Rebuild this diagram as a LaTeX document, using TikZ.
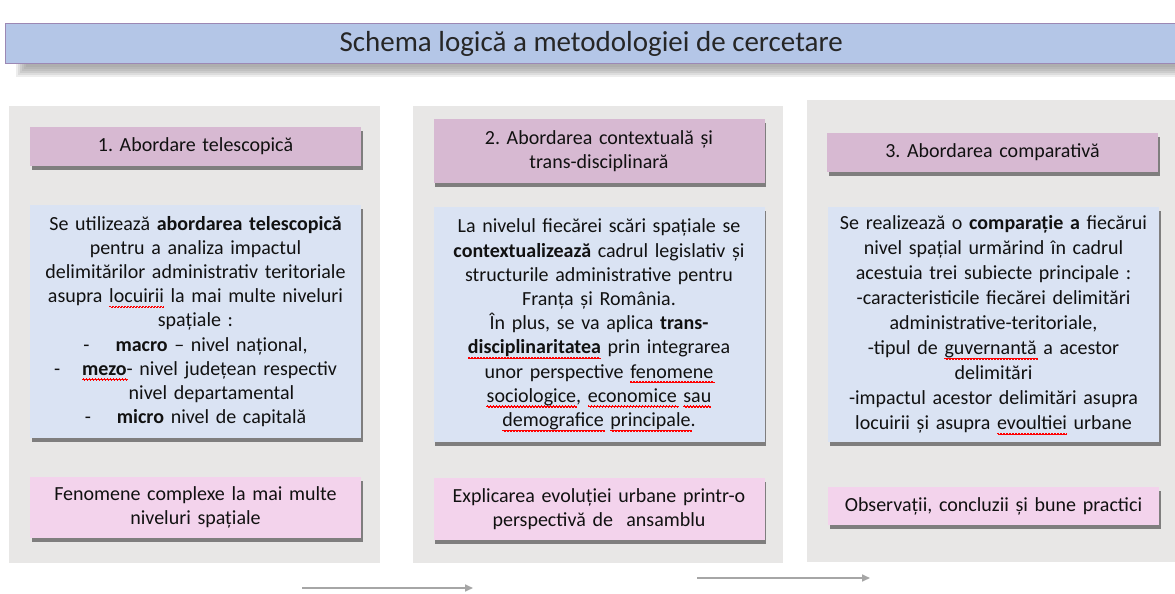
\documentclass[tikz,border=0pt]{standalone}
\usepackage{fontspec}
\setmainfont{Carlito}
\usetikzlibrary{shadows,arrows.meta}
\definecolor{titlefill}{HTML}{B4C6E7}
\definecolor{titleborder}{HTML}{9C88B4}
\definecolor{panelgray}{HTML}{E8E7E6}
\definecolor{headfill}{HTML}{D7B9D2}
\definecolor{bluefill}{HTML}{DAE3F3}
\definecolor{pinkfill}{HTML}{F3D3EC}
\definecolor{arrowgray}{HTML}{A6A6A6}
\definecolor{textcol}{HTML}{111111}
\frenchspacing
\newcommand\sq[1]{\setbox0=\hbox{#1}\leavevmode\rlap{\color{red}\setlength{\unitlength}{1pt}\linethickness{0.5pt}\begin{picture}(0,0)\multiput(0,-4)(3,0){\numexpr\wd0/196608\relax}{\qbezier(0,0)(0.75,1.2)(1.5,0)\qbezier(1.5,0)(2.25,-1.2)(3,0)}\end{picture}}\box0\relax}
\tikzset{
  panelbox/.style={fill=panelgray, draw=none, inner sep=0pt},
  boxshadow/.style={drop shadow={shadow xshift=1.5pt, shadow yshift=-3.5pt, fill=black, opacity=0.45}},
  headbox/.style={fill=headfill, boxshadow, inner xsep=4pt, inner ysep=0pt, text width=323pt, align=center,
     font=\fontsize{20}{24}\selectfont, text=textcol},
  bluebox/.style={fill=bluefill, boxshadow, inner xsep=3pt, inner ysep=0pt, text width=325pt, align=center,
     font=\fontsize{20}{24.2}\selectfont, text=textcol},
  pinkbox/.style={fill=pinkfill, boxshadow, inner xsep=4pt, inner ysep=0pt, text width=323pt, align=center,
     font=\fontsize{20}{24.5}\selectfont, text=textcol},
  flowarrow/.style={draw=arrowgray, line width=1.6pt, -{Triangle[length=8pt,width=7pt]}}
}
\begin{document}
\begin{tikzpicture}[x=1pt,y=-1pt]
\useasboundingbox (0,0) rectangle (1175,594);
\fill[white] (0,0) rectangle (1175,594);
% title shadow (soft)
\foreach \d/\o in {0/0.07,2/0.07,4/0.07,6/0.06,8/0.05,10/0.04}{
  \fill[black,opacity=\o] (16+\d,52+\d*0.3) rectangle (1175,77-\d);
}
\node[fill=titlefill, draw=titleborder, line width=1.2pt, minimum width=1180pt, minimum height=40pt,
      anchor=west, inner sep=0pt, text=black!85, font=\fontsize{29}{34}\selectfont]
      (title) at (4.5,43.5) {\hspace*{-8pt}Schema logică a metodologiei de cercetare};
% panels
\node[panelbox, minimum width=371pt, minimum height=457pt] (p1) at (194.5,334.5) {};
\node[panelbox, minimum width=370pt, minimum height=457pt] (p2) at (598,334.5) {};
\node[panelbox, minimum width=368pt, minimum height=462pt] (p3) at (991,331) {};
% headers
\node[headbox, minimum height=39pt] (h1) at (195.5,146.5) {1. Abordare telescopică};
\node[headbox, minimum height=64pt] (h2) at (599,151) {2. Abordarea contextuală și\\trans-disciplinară};
\node[headbox, minimum height=39pt] (h3) at (992.5,152.5) {3. Abordarea comparativă};
% blue boxes
\node[bluebox, minimum height=233pt] (b1) at (195.5,321.5) {Se utilizează \textbf{abordarea telescopică}\\
pentru a analiza impactul\\
delimitărilor administrativ teritoriale\\
asupra \sq{locuirii} la mai multe niveluri\\
spațiale :\\
-\hspace{1.3em}\textbf{macro} – nivel național,\\
-\hspace{1.1em}\sq{\textbf{mezo}}- nivel județean respectiv\\
\hspace*{1.6em}nivel departamental\\
-\hspace{1.3em}\textbf{micro} nivel de capitală};
\node[bluebox, minimum height=235pt] (b2) at (599,324.5) {La nivelul fiecărei scări spațiale se\\
\textbf{contextualizează} cadrul legislativ și\\
structurile administrative pentru\\
Franța și România.\\
În plus, se va aplica \textbf{trans-}\\
\sq{\textbf{disciplinaritatea}} prin integrarea\\
unor perspective \sq{fenomene}\\
\sq{sociologice}, \sq{economice} \sq{sau}\\
\sq{demografice} \sq{principale}.};
\node[bluebox, minimum height=235pt, font=\fontsize{20}{25}\selectfont] (b3) at (993.5,324.5) {Se realizează o \textbf{comparație a} fiecărui\\
nivel spațial urmărind în cadrul\\
acestuia trei subiecte principale :\\
-caracteristicile fiecărei delimitări\\
administrative-teritoriale,\\
-tipul de \sq{guvernantă} a acestor\\
delimitări\\
-impactul acestor delimitări asupra\\
locuirii și asupra \sq{evoultiei} urbane};
% pink boxes
\node[pinkbox, minimum height=61pt] (k1) at (195.5,507.5) {Fenomene complexe la mai multe\\niveluri spațiale};
\node[pinkbox, minimum height=62pt] (k2) at (599,509) {Explicarea evoluției urbane printr-o\\perspectivă de\ \ ansamblu};
\node[pinkbox, minimum height=38pt] (k3) at (993.5,506) {Observații, concluzii și bune practici};
% arrows
\coordinate (a1s) at (302,588);
\coordinate (a1e) at (473,588);
\coordinate (a2s) at (697,578);
\coordinate (a2e) at (870,578);
\draw[flowarrow] (a1s) -- (a1e);
\draw[flowarrow] (a2s) -- (a2e);
\end{tikzpicture}
\end{document}
